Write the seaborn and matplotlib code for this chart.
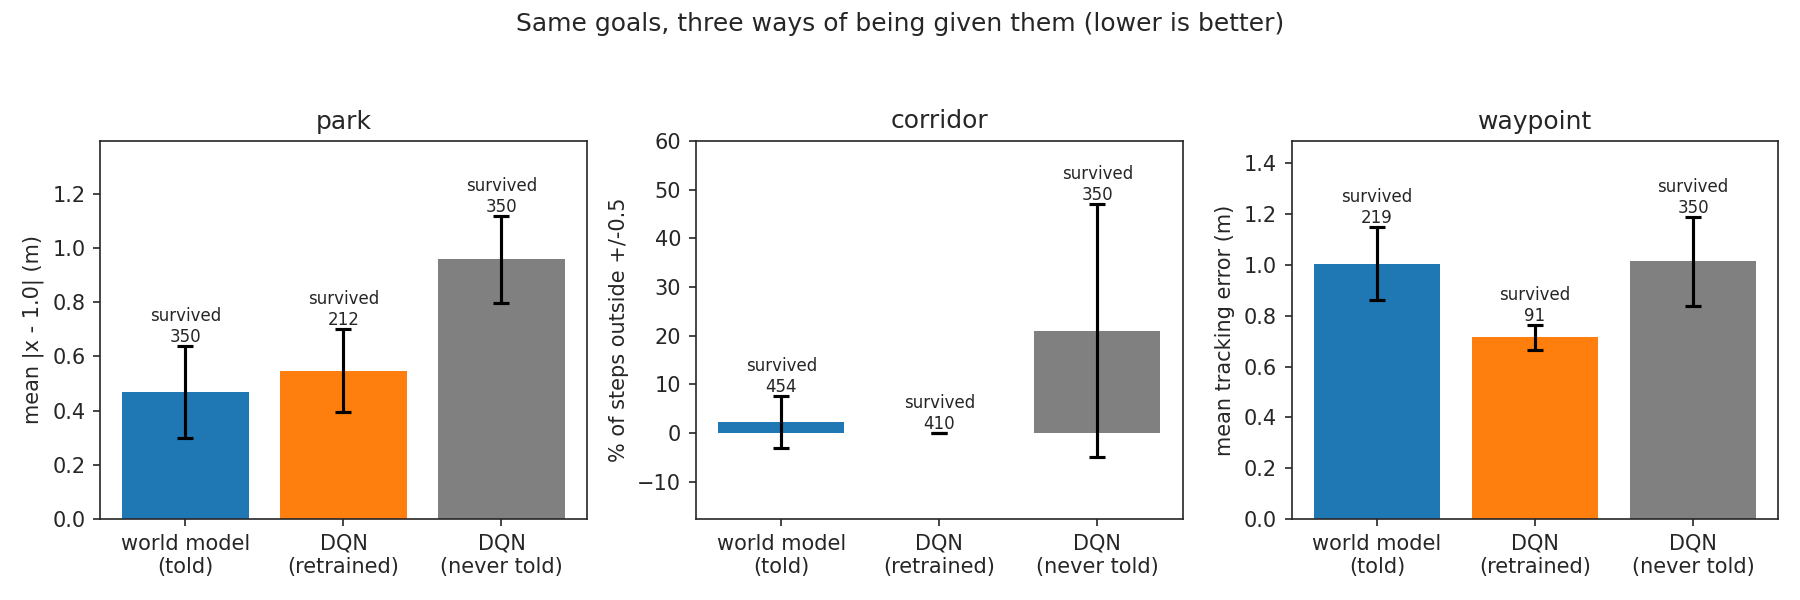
import pandas as pd
import seaborn as sns
import matplotlib
matplotlib.use("Agg")
import matplotlib.pyplot as plt

# Data
methods = ["world model\n(told)", "DQN\n(retrained)", "DQN\n(never told)"]
colors = ["#1f77b4", "#ff7f0e", "#808080"]

tasks = ["park", "corridor", "waypoint"]
ylabels = ["mean |x - 1.0| (m)", "% of steps outside +/-0.5", "mean tracking error (m)"]

park_mean = [0.47, 0.548, 0.958]
park_err = [0.17, 0.153, 0.16]
park_survived = [350, 212, 350]

corridor_mean = [2.2, 0.0, 21.0]
corridor_err = [5.4, 0.0, 26.0]
corridor_survived = [454, 410, 350]

waypoint_mean = [1.005, 0.715, 1.015]
waypoint_err = [0.145, 0.05, 0.175]
waypoint_survived = [219, 91, 350]

ylims = [(0, 1.395), (-17.7, 60), (0, 1.4875)]

means = [park_mean, corridor_mean, waypoint_mean]
errs = [park_err, corridor_err, waypoint_err]
survived = [park_survived, corridor_survived, waypoint_survived]

sns.set_style("ticks")
plt.rcParams["font.family"] = ["DejaVu Sans"]

fig, axes = plt.subplots(1, 3, figsize=(12, 4), dpi=150)
fig.subplots_adjust(left=0.0556, right=0.988, top=0.765, bottom=0.135, wspace=0.224)

for i, ax in enumerate(axes):
    df = pd.DataFrame({"method": methods, "value": means[i]})
    sns.barplot(data=df, x="method", y="value", hue="method", palette=colors,
                saturation=1, width=0.8, linewidth=0, legend=False, ax=ax)
    xs = list(range(len(methods)))
    ax.errorbar(xs, means[i], yerr=errs[i], fmt="none", ecolor="black",
                elinewidth=1.5, capsize=4, capthick=1.5)
    for x, m, e, n in zip(xs, means[i], errs[i], survived[i]):
        ax.text(x, m + e, f"survived\n{n}", ha="center", va="bottom", fontsize=8)
    ax.set_title(tasks[i], fontsize=12)
    ax.set_ylabel(ylabels[i], fontsize=10)
    ax.set_xlabel("")
    ax.set_xlim(-0.54, 2.54)
    ax.set_ylim(*ylims[i])
    ax.tick_params(labelsize=10)
    for s in ax.spines.values():
        s.set_visible(True)

fig.suptitle("Same goals, three ways of being given them (lower is better)", fontsize=12)
fig.savefig("out.png", dpi=150)
